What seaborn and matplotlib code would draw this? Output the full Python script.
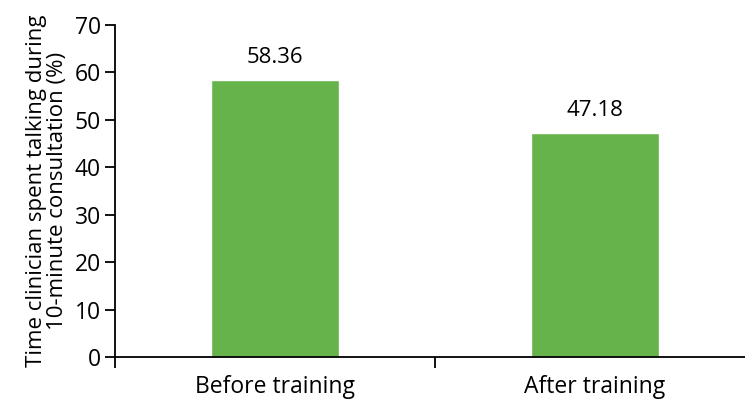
import matplotlib
matplotlib.use("Agg")
import matplotlib.pyplot as plt
import seaborn as sns
import pandas as pd

# données
categories = ["Before training", "After training"]
values = [58.36, 47.18]
y_ticks = [0, 10, 20, 30, 40, 50, 60, 70]
bar_color = "#65b34a"

sns.set_style("white")
plt.rcParams['font.family'] = ['Open Sans', 'DejaVu Sans']

df = pd.DataFrame({"phase": categories, "pct": values})

fig = plt.figure(figsize=(7.45, 4.0), dpi=100)
ax = fig.add_axes([115 / 745, 43 / 400, 640 / 745, 332 / 400])

sns.barplot(data=df, x="phase", y="pct", color=bar_color, width=0.4,
            saturation=1, ax=ax)

# valeurs au-dessus des barres
for i, v in enumerate(values):
    ax.annotate(f"{v:.2f}", (i, v), xytext=(0, 9), textcoords="offset points",
                ha="center", va="bottom", fontsize=16, color="black")

ax.set_xlim(-0.5, 1.5)
ax.set_ylim(0, 70)
ax.set_yticks(y_ticks)
ax.tick_params(axis="y", labelsize=16.5, length=7, width=1.3, direction="out",
               left=True, pad=3, colors="black")
ax.set_xticks([0, 1])
ax.set_xticklabels(categories)
ax.tick_params(axis="x", which="major", labelsize=16.5, length=0, pad=13,
               colors="black")
ax.set_xticks([-0.5, 0.5, 1.5], minor=True)
ax.tick_params(axis="x", which="minor", length=8, width=1.3, direction="out",
               bottom=True, colors="black")

ax.set_xlabel("")
ax.set_ylabel("Time clinician spent talking during\n10-minute consultation (%)",
              fontsize=16, labelpad=5, color="black", linespacing=1.0)

for s in ["top", "right"]:
    ax.spines[s].set_visible(False)
for s in ["left", "bottom"]:
    ax.spines[s].set_color("black")
    ax.spines[s].set_linewidth(1.3)

fig.savefig("out.png", dpi=100)
